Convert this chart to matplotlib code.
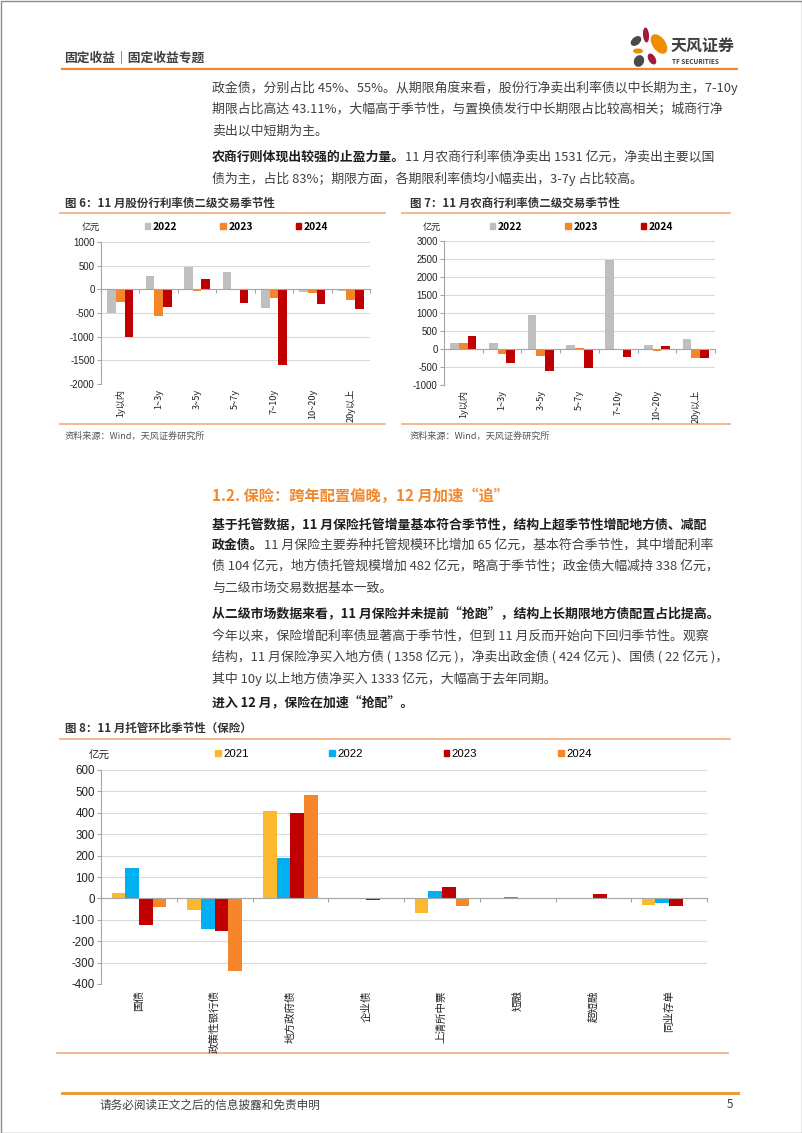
import numpy as np
import matplotlib
matplotlib.use('Agg')
import matplotlib.pyplot as plt
from matplotlib.patches import Patch, Rectangle, Ellipse

plt.rcParams['font.family'] = ['Noto Sans CJK SC', 'DejaVu Sans']
plt.rcParams['axes.unicode_minus'] = False

# 图6 股份行
cats6 = ['1y以内', '1~3y', '3~5y', '5~7y', '7~10y', '10~20y', '20y以上']
gf_2022 = [-490, 273, 475, 370, -392, -50, -40]
gf_2023 = [-273, -573, -35, -20, -175, -84, -217]
gf_2024 = [-1000, -364, 217, -280, -1601, -308, -406]

# 图7 农商行
ns_2022 = [172, 172, 932, 112, 2470, 112, 280]
ns_2023 = [180, -149, -205, 20, -12, -45, -250]
ns_2024 = [354, -391, -624, -522, -224, 75, -242]

years3 = ['2022', '2023', '2024']
colors3 = ['#BFBFBF', '#F4862A', '#C00000']

# 图8 保险托管
cats8 = ['国债', '政策性银行债', '地方政府债', '企业债', '上清所中票', '短融', '超短融', '同业存单']
bx_2021 = [27, -56, 409, -2, -66, 0, 3, -33]
bx_2022 = [144, -141, 191, -3, 33, 5, 0, -20]
bx_2023 = [-125, -150, 400, -6, 53, 3, 22, -36]
bx_2024 = [-39, -340, 481, 0, -36, 3, 0, 0]
years4 = ['2021', '2022', '2023', '2024']
colors4 = ['#FDB92E', '#00B0F0', '#C00000', '#F5862A']

W, H = 802, 1133
fig = plt.figure(figsize=(W / 100, H / 100), dpi=100)
fig.patch.set_facecolor('white')

# page layer in pixel coords
bg = fig.add_axes([0, 0, 1, 1])
bg.set_xlim(0, W)
bg.set_ylim(H, 0)
bg.axis('off')
bg.add_patch(Rectangle((0.5, 0.5), W - 1, H - 1, fill=False, ec='#8c8c8c', lw=1))

BODY = '#404040'
FS = 9.3


def seg_line(x, y, segs, fs=FS):
    prev = None
    for s, bold in segs:
        kw = dict(fontsize=fs, fontweight='bold' if bold else 'normal',
                  color='#1e1e1e' if bold else BODY, va='center', ha='left')
        if prev is None:
            prev = bg.text(x, y, s, **kw)
        else:
            prev = bg.annotate(s, xy=(1, 0.5), xycoords=prev, **kw)


# header
bg.text(64, 58, '固定收益｜固定收益专题', fontsize=9.2, fontweight='bold', color='#404040', va='center')
bg.plot([62, 737], [69, 69], color='#F0892E', lw=1.6)
petals = [((636, 41), 8, 12, 50, '#4a4a4a'), ((646, 35), 6, 15, -5, '#a3193a'),
          ((659, 44), 13, 22, -35, '#f08c00'), ((638, 51), 10, 5, 0, '#f08c00'),
          ((652, 59), 7, 12, -30, '#a3193a'), ((639, 61), 10, 12, 25, '#4a4a4a')]
for c, w, h, a, col in petals:
    bg.add_patch(Ellipse(c, w, h, angle=a, color=col, lw=0))
bg.text(671, 46, '天风证券', fontsize=11.5, fontweight='bold', color='#3f3f3f', va='center')
bg.text(672, 62, 'TF SECURITIES', fontsize=4.6, fontweight='bold', color='#3f3f3f', va='center')

# body text top
X0 = 212
seg_line(X0, 88, [('政金债，分别占比 45%、55%。从期限角度来看，股份行净卖出利率债以中长期为主，7-10y', False)])
seg_line(X0, 110, [('期限占比高达 43.11%，大幅高于季节性，与置换债发行中长期限占比较高相关；城商行净', False)])
seg_line(X0, 131, [('卖出以中短期为主。', False)])
seg_line(X0, 157, [('农商行则体现出较强的止盈力量。', True), ('11 月农商行利率债净卖出 1531 亿元，净卖出主要以国', False)])
seg_line(X0, 179, [('债为主，占比 83%；期限方面，各期限利率债均小幅卖出，3-7y 占比较高。', False)])

# section
bg.text(X0, 496, '1.2. 保险：跨年配置偏晚，12 月加速“追”', fontsize=11, fontweight='bold', color='#F0892E', va='center')
seg_line(X0, 524, [('基于托管数据，11 月保险托管增量基本符合季节性，结构上超季节性增配地方债、减配', True)])
seg_line(X0, 545, [('政金债。', True), ('11 月保险主要券种托管规模环比增加 65 亿元，基本符合季节性，其中增配利率', False)])
seg_line(X0, 567, [('债 104 亿元，地方债托管规模增加 482 亿元，略高于季节性；政金债大幅减持 338 亿元，', False)])
seg_line(X0, 588, [('与二级市场交易数据基本一致。', False)])
seg_line(X0, 614, [('从二级市场数据来看，11 月保险并未提前“抢跑”，结构上长期限地方债配置占比提高。', True)])
seg_line(X0, 636, [('今年以来，保险增配利率债显著高于季节性，但到 11 月反而开始向下回归季节性。观察', False)])
seg_line(X0, 657, [('结构，11 月保险净买入地方债 ( 1358 亿元 )，净卖出政金债 ( 424 亿元 )、国债 ( 22 亿元 )，', False)])
seg_line(X0, 679, [('其中 10y 以上地方债净买入 1333 亿元，大幅高于去年同期。', False)])
seg_line(X0, 703, [('进入 12 月，保险在加速“抢配”。', True)])

# chart frames
LINEC = '#F4B183'
bg.text(65, 203, '图 6：11 月股份行利率债二级交易季节性', fontsize=8.3, fontweight='bold', color='#333333', va='center')
bg.text(410, 203, '图 7：11 月农商行利率债二级交易季节性', fontsize=8.3, fontweight='bold', color='#333333', va='center')
for x0, x1 in [(60, 385), (402, 730)]:
    bg.plot([x0, x1], [213, 213], color=LINEC, lw=1.3)
    bg.plot([x0, x1], [424, 424], color=LINEC, lw=1.3)
bg.text(65, 436, '资料来源：Wind，天风证券研究所', fontsize=6.6, color='#555555', va='center')
bg.text(410, 436, '资料来源：Wind，天风证券研究所', fontsize=6.6, color='#555555', va='center')

bg.text(65, 728, '图 8：11 月托管环比季节性（保险）', fontsize=8.3, fontweight='bold', color='#333333', va='center')
bg.plot([60, 730], [739, 739], color=LINEC, lw=1.3)
bg.plot([57, 728], [1053, 1053], color=LINEC, lw=1.3)

# footer
bg.plot([62, 738], [1093, 1093], color='#E8A13A', lw=2.2)
bg.text(100, 1105, '请务必阅读正文之后的信息披露和免责申明', fontsize=8.4, color='#404040', va='center')
bg.text(733, 1105, '5', fontsize=8.4, color='#404040', va='center', ha='right')


def fax(l, t, r, b):
    return fig.add_axes([l / W, 1 - b / H, (r - l) / W, (b - t) / H])


def bar_chart(ax, cats, series, colors, width, ylim, step, fs_tick, fs_cat, lab_off):
    n = len(series)
    x = np.arange(len(cats))
    bars = []
    for i, (vals, col) in enumerate(zip(series, colors)):
        b = ax.bar(x + (i - (n - 1) / 2) * width, vals, width, color=col, lw=0, zorder=3)
        bars.append(b)
    ax.set_xlim(-0.5, len(cats) - 0.5)
    ax.set_ylim(*ylim)
    ax.set_yticks(np.arange(ylim[0], ylim[1] + 1, step))
    ax.yaxis.grid(True, color='#D9D9D9', lw=0.8, zorder=0)
    ax.set_axisbelow(True)
    for s in ['top', 'right']:
        ax.spines[s].set_visible(False)
    ax.spines['left'].set_color('#A6A6A6')
    ax.spines['bottom'].set_color('#A6A6A6')
    ax.spines['bottom'].set_position(('data', 0))
    ax.spines['bottom'].set_zorder(4)
    ax.set_xticks(np.arange(-0.5, len(cats), 1.0))
    ax.set_xticklabels([])
    ax.tick_params(axis='x', length=3, color='#A6A6A6', direction='out')
    ax.tick_params(axis='y', length=3, color='#A6A6A6', labelsize=fs_tick, pad=1.5, labelcolor='#222222')
    for lab in ax.get_yticklabels():
        lab.set_family(['Liberation Sans', 'DejaVu Sans'])
    tr = ax.get_xaxis_transform()
    for xi, c in zip(x, cats):
        ax.text(xi, lab_off, c, transform=tr, rotation=90, ha='center', va='top',
                fontsize=fs_cat, color='#222222')
    return bars


ax6 = fax(101, 242, 370, 384)
b6 = bar_chart(ax6, cats6, [gf_2022, gf_2023, gf_2024], colors3, 0.225, (-2000, 1000), 500, 6.9, 6.6, -0.035)
ax7 = fax(444, 241, 715, 385)
b7 = bar_chart(ax7, cats6, [ns_2022, ns_2023, ns_2024], colors3, 0.225, (-1000, 3000), 500, 6.9, 6.6, -0.035)
ax8 = fax(101, 770, 707, 984)
b8 = bar_chart(ax8, cats8, [bx_2021, bx_2022, bx_2023, bx_2024], colors4, 0.18, (-400, 600), 100, 8.3, 7.6, -0.03)

for ax, lx, ly in [(ax6, 145, 227), (ax7, 490, 227)]:
    h = [Patch(color=c) for c in colors3]
    ax.legend(h, years3, loc='center left', bbox_to_anchor=(lx, ly), bbox_transform=bg.transData,
              ncol=3, frameon=False, prop={'weight': 'bold', 'size': 7.4},
              handlelength=0.5, handleheight=0.5, handletextpad=0.25, columnspacing=4.2,
              borderpad=0, borderaxespad=0)
bg.text(82, 227, '亿元', fontsize=6.6, color='#222222', va='center')
bg.text(423, 227, '亿元', fontsize=6.6, color='#222222', va='center')

h8 = [Patch(color=c) for c in colors4]
ax8.legend(h8, years4, loc='center left', bbox_to_anchor=(215, 754), bbox_transform=bg.transData,
           ncol=4, frameon=False, prop={'size': 8.2, 'family': ['Liberation Sans', 'DejaVu Sans']},
           handlelength=0.5, handleheight=0.5, handletextpad=0.2, columnspacing=7.1,
           borderpad=0, borderaxespad=0)
bg.text(89, 756, '亿元', fontsize=7.6, color='#222222', va='center')

fig.savefig('out.png', dpi=100, facecolor='white')
